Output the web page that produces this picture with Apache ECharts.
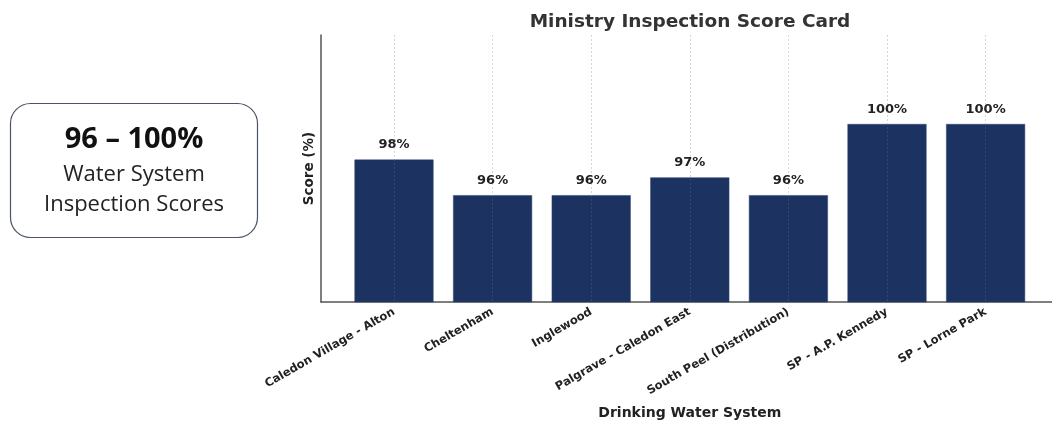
<!DOCTYPE html>
<html><head><meta charset="utf-8">
<script src="https://cdn.jsdelivr.net/npm/echarts@6/dist/echarts.min.js"></script>
<style>html,body{margin:0;padding:0;background:#fff}#c{width:1052px;height:424px}</style>
</head><body><div id="c"></div>
<script>
const categories = ['Caledon Village - Alton','Cheltenham','Inglewood','Palgrave - Caledon East','South Peel (Distribution)','SP - A.P. Kennedy','SP - Lorne Park'];
const scores = [98, 96, 96, 97, 96, 100, 100];
const titleText = 'Ministry Inspection Score Card';
const yName = 'Score (%)';
const xName = 'Drinking Water System';
const boxLines = ['96 – 100%', 'Water System', 'Inspection Scores'];

const F = 'DejaVu Sans';
const chart = echarts.init(document.getElementById('c'), null, {renderer:'canvas'});
chart.setOption({
  animation:false,
  backgroundColor:'#fff',
  title:{text:titleText,left:685,top:8,textAlign:'center',textStyle:{fontFamily:F,fontWeight:'bold',fontSize:18.5,color:'#333'}},
  grid:[
    {left:321,top:35,width:737,height:267,outerBoundsMode:'none',containLabel:false},
    {left:394,top:35,width:591.6,height:267,outerBoundsMode:'none',containLabel:false}
  ],
  xAxis:[
    {gridIndex:0,type:'value',min:0,max:1,axisLine:{show:true,lineStyle:{color:'#555',width:1.5}},axisTick:{show:false},axisLabel:{show:false},splitLine:{show:false}},
    {gridIndex:1,type:'category',data:categories,boundaryGap:false,z:5,
     axisLine:{show:false},axisTick:{show:false},
     axisLabel:{rotate:30,margin:9,fontFamily:F,fontWeight:'bold',fontSize:11.5,color:'#222',interval:0},
     splitLine:{show:true,interval:0,lineStyle:{color:'rgba(120,120,130,0.3)',type:[2,2],width:1}},
     name:xName,nameLocation:'middle',nameGap:104,nameTextStyle:{fontFamily:F,fontWeight:'bold',fontSize:14,color:'#222'}}
  ],
  yAxis:[
    {gridIndex:0,type:'value',min:90,max:105,axisLine:{show:true,lineStyle:{color:'#555',width:1.5}},axisTick:{show:false},axisLabel:{show:false},splitLine:{show:false},
     name:yName,nameLocation:'middle',nameGap:5,nameRotate:90,nameTextStyle:{fontFamily:F,fontWeight:'bold',fontSize:13.5,color:'#222'}},
    {gridIndex:1,type:'value',min:90,max:105,show:false,splitLine:{show:false}}
  ],
  series:[{
    type:'bar',xAxisIndex:1,yAxisIndex:1,data:scores,barWidth:79,
    itemStyle:{color:'#1c3362',borderColor:'#2c4272',borderWidth:0.5},
    label:{show:true,position:'top',distance:8,formatter:p=>p.value+'%',fontFamily:F,fontWeight:'bold',fontSize:13,color:'#222'}
  }],
  graphic:[
    {type:'rect',shape:{x:10.5,y:103.5,width:247,height:134,r:20},style:{fill:'#fff',stroke:'#4a5465',lineWidth:1.2}},
    {type:'text',x:134,y:140,style:{text:boxLines[0],fontFamily:'Open Sans',fontWeight:'bold',fontSize:29,fill:'#111',align:'center',verticalAlign:'middle'}},
    {type:'text',x:134,y:175,style:{text:boxLines[1],fontFamily:'Open Sans',fontSize:22,fill:'#222',align:'center',verticalAlign:'middle'}},
    {type:'text',x:134,y:205,style:{text:boxLines[2],fontFamily:'Open Sans',fontSize:22,fill:'#222',align:'center',verticalAlign:'middle'}}
  ]
});
</script></body></html>
